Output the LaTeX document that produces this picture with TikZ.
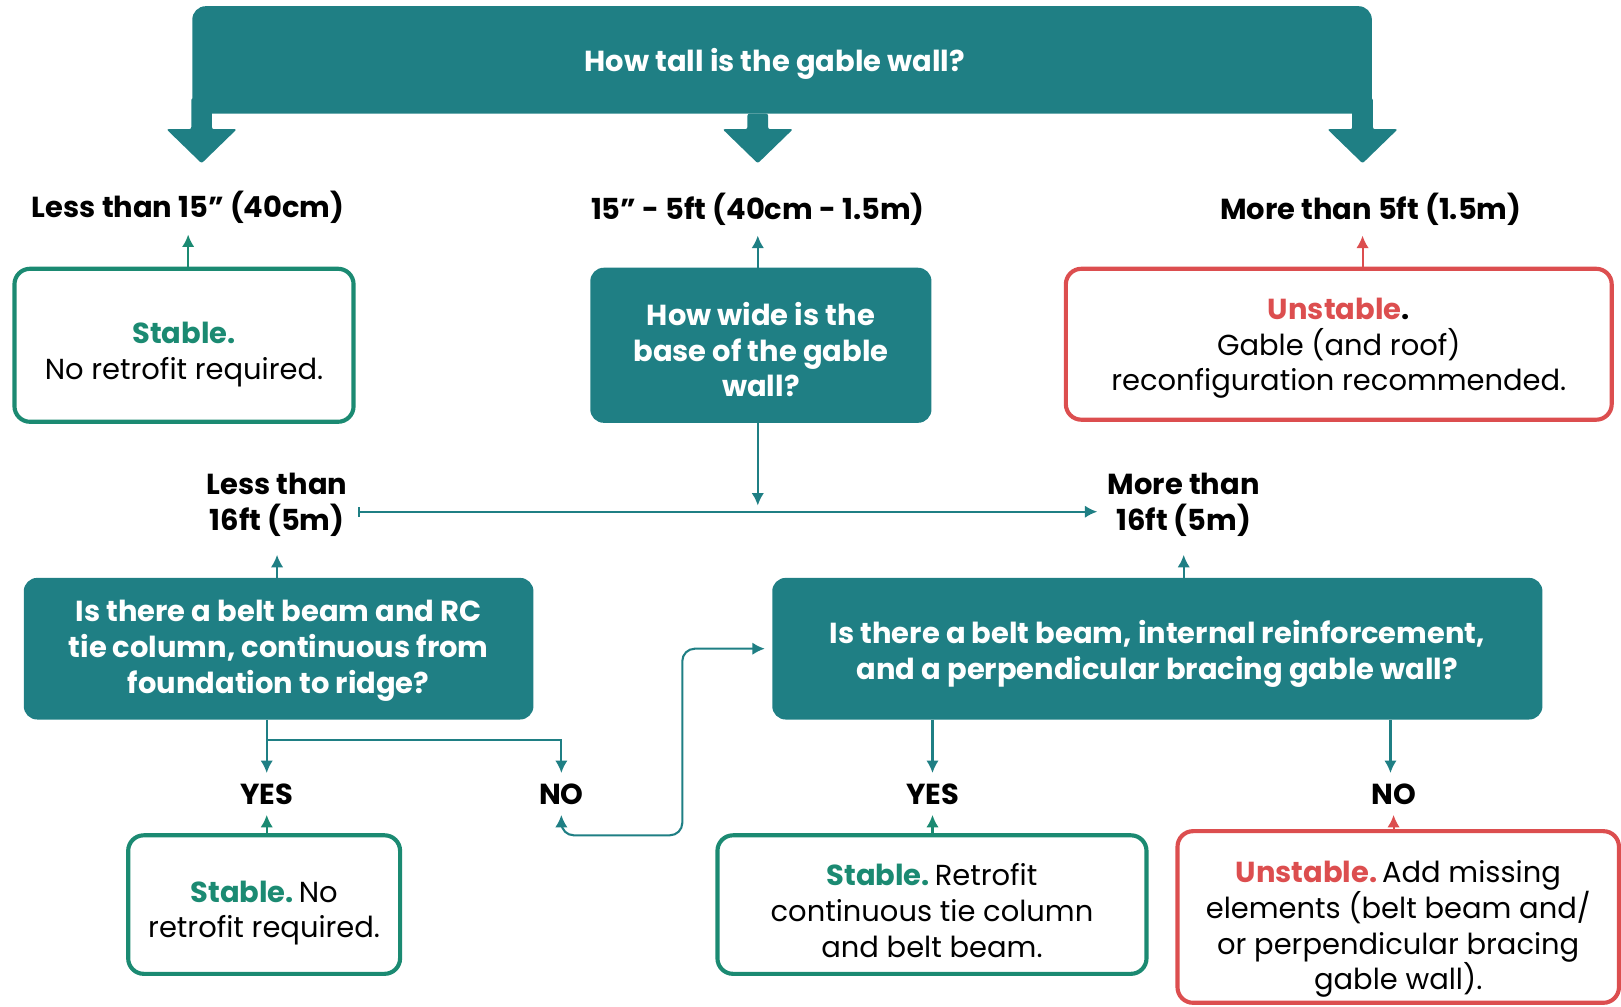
\documentclass[tikz,border=0pt]{standalone}
\usepackage{fontspec}
\setmainfont{Poppins}
\usetikzlibrary{arrows.meta}
\definecolor{tealq}{HTML}{1F7F84}
\definecolor{stablegreen}{HTML}{1B8A72}
\definecolor{unstred}{HTML}{DC4E4F}
\newcommand{\topgap}[1]{\rule{0pt}{#1pt}}
\begin{document}
\begin{tikzpicture}[x=1pt, y=1pt, font=\fontsize{28}{34.5}\selectfont]
  % Define block styles
  \tikzstyle{question} = [rectangle, fill=tealq, text=white, font=\fontsize{28}{34.5}\selectfont\bfseries, align=center, rounded corners=13pt, inner sep=0pt]
  \tikzstyle{stablebox} = [rectangle, draw=stablegreen, line width=4pt, align=center, rounded corners=15pt, inner sep=0pt]
  \tikzstyle{unstablebox} = [stablebox, draw=unstred]
  \tikzstyle{answer} = [font=\fontsize{28}{34.5}\selectfont\bfseries, align=center, inner sep=10pt]
  \tikzstyle{line} = [draw=tealq, line width=2pt, -{Latex[length=12pt, width=12pt]}]
  \tikzstyle{greenline} = [line, draw=stablegreen, -{Latex[length=12pt, width=12pt, fill=stablegreen]}]
  \tikzstyle{redline} = [line, draw=unstred, -{Latex[length=12pt, width=12pt, fill=unstred]}]

  \useasboundingbox (0,0) rectangle (1568,974);

  % Place blocks
  \node [question, minimum width=1141pt, minimum height=104pt] (tall) at (756.5,916) {\topgap{31}How tall is the gable wall?\hspace*{14pt}};
  \foreach \x/\t in {195/879, 733/864, 1318/879}
    \fill [tealq, rounded corners=2pt] (\x-10,\t) -- (\x+10,\t) -- (\x+10,849) -- (\x+34,849) -- (\x,816) -- (\x-34,849) -- (\x-10,849) -- cycle;

  \node [answer] (less15) at (182,773) {Less than 15” (40cm)};
  \node [answer] (mid15) at (733,772) {15” - 5ft (40cm - 1.5m)};
  \node [answer] (more5) at (1326,772) {More than 5ft (1.5m)};

  \node [stablebox, minimum width=328pt, minimum height=148pt] (stable1) at (178,640) {\topgap{39}\textcolor{stablegreen}{\bfseries Stable.}\\No retrofit required.};
  \node [question, minimum width=330pt, minimum height=150pt] (wide) at (736,640) {\topgap{31}How wide is the\\base of the gable\\wall?};
  \node [unstablebox, minimum width=528pt, minimum height=146pt] (unstable1) at (1295,641) {\topgap{29}\textbf{\textcolor{unstred}{Unstable}.}\\Gable (and roof)\\reconfiguration recommended.};

  \node [answer, inner ysep=18pt] (less16) at (268,486) {Less than\\16ft (5m)};
  \node [answer, inner ysep=18pt] (more16) at (1145,486) {More than\\16ft (5m)};
  \coordinate (split16) at (733,479);

  \node [question, minimum width=493pt, minimum height=137pt] (beltrc) at (269.5,346.5) {\topgap{25}Is there a belt beam and RC\\tie column, continuous from\\foundation to ridge?};
  \node [question, minimum width=745pt, minimum height=137pt] (bracing) at (1119.5,346.5) {\topgap{33}Is there a belt beam, internal reinforcement,\\and a perpendicular bracing gable wall?};

  \node [answer] (yes1) at (258,206) {YES};
  \node [answer] (no1) at (543,206) {NO};
  \node [answer] (yes2) at (902,206) {YES};
  \node [answer] (no2) at (1348,206) {NO};
  \coordinate (split1) at (258,258);
  \coordinate (loop1) at (660,166);

  \node [stablebox, minimum width=263pt, minimum height=134pt] (stable2) at (255.5,99) {\topgap{37}\textcolor{stablegreen}{\bfseries Stable.}\,No\\retrofit required.};
  \node [stablebox, minimum width=415pt, minimum height=134pt] (stable3) at (901.5,99) {\topgap{33}\textcolor{stablegreen}{\bfseries Stable.}\,Retrofit\\continuous tie column\\and belt beam.};
  \node [unstablebox, minimum width=427pt, minimum height=166pt] (unstable2) at (1352.5,87) {\topgap{45}\textcolor{unstred}{\bfseries Unstable.}\,Add missing\\elements (belt beam and/\\or perpendicular bracing\\gable wall).};

  % Draw lines
  \path [greenline] (stable1.north -| less15.south) -- (less15.south);
  \path [line] (wide.north -| mid15.south) -- (mid15.south);
  \path [redline] (unstable1.north -| 1318,0) -- (1318,0 |- more5.south);
  \path [line, shorten >=6pt] (wide.south -| split16) -- (split16);
  \path [line, {Bar[width=10pt]}-{Latex[length=12pt, width=12pt]}] (split16 -| less16.east) -- (split16 -| more16.west);
  \path [line] (beltrc.north -| less16.south) -- (less16.south);
  \path [line] (bracing.north -| more16.south) -- (more16.south);
  \path [line] (beltrc.south -| yes1.north) -- (yes1.north);
  \path [line] (split1) -| (no1.north);
  \path [line, rounded corners=12pt, {Latex[length=12pt, width=12pt]}-{Latex[length=12pt, width=12pt]}, shorten >=7pt] (no1.south) |- (loop1) |- (bracing.west);
  \path [line] (bracing.south -| yes2.north) -- (yes2.north);
  \path [line] (bracing.south -| 1345,0) -- (1345,0 |- no2.north);
  \path [greenline] (stable2.north -| yes1.south) -- (yes1.south);
  \path [greenline] (stable3.north -| yes2.south) -- (yes2.south);
  \path [redline] (unstable2.north -| no2.south) -- (no2.south);
\end{tikzpicture}
\end{document}
